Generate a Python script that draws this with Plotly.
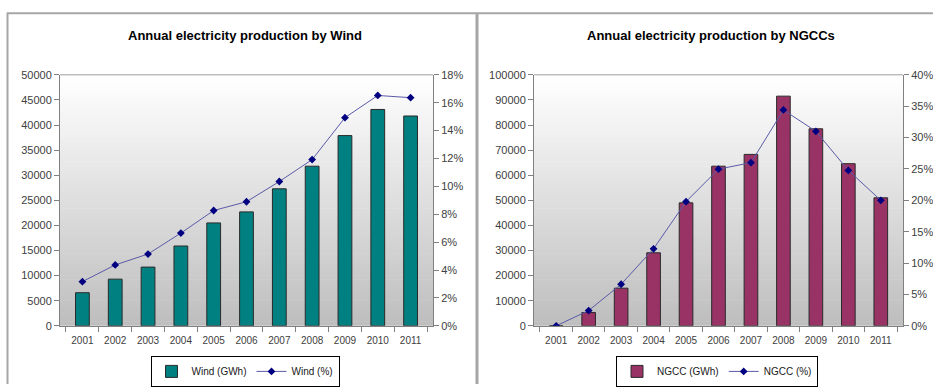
import plotly.graph_objects as go

# Years shared by both charts
years = ["2001", "2002", "2003", "2004", "2005", "2006",
         "2007", "2008", "2009", "2010", "2011"]

# Wind production (GWh) and share of total production
wind_gwh = [6600, 9300, 11700, 15900, 20500, 22700, 27300, 31800, 37900, 43100, 41800]
wind_pct = [0.0317, 0.0437, 0.0515, 0.0665, 0.0827, 0.089, 0.1035, 0.1192, 0.1493, 0.1652, 0.1636]

# NGCC production (GWh) and share of total production
ngcc_gwh = [0, 5300, 15000, 29100, 49000, 63600, 68300, 91500, 78500, 64600, 51000]
ngcc_pct = [0.0, 0.0244, 0.0663, 0.1228, 0.1979, 0.2497, 0.26, 0.344, 0.31, 0.2477, 0.20]

W, H = 933, 390
FONT = "Liberation Sans, Arial, sans-serif"
TICK_COLOR = "#404040"
AXIS_COLOR = "#808080"
LINE_COLOR = "#5a5aa8"
MARK_COLOR = "#000080"


def px_x(v):
    return v / W


def px_y(v):
    return 1 - v / H


fig = go.Figure()

fig.add_trace(go.Bar(
    x=years, y=wind_gwh, name="Wind (GWh)",
    marker=dict(color="#008080", line=dict(color="#2a2a2a", width=1)),
    xaxis="x", yaxis="y", legend="legend",
))
fig.add_trace(go.Scatter(
    x=years, y=wind_pct, name="Wind (%)", mode="lines+markers",
    line=dict(color=LINE_COLOR, width=1),
    marker=dict(symbol="diamond", size=6, color=MARK_COLOR),
    xaxis="x", yaxis="y2", legend="legend",
))
fig.add_trace(go.Bar(
    x=years, y=ngcc_gwh, name="NGCC (GWh)",
    marker=dict(color="#993366", line=dict(color="#2a2a2a", width=1)),
    xaxis="x2", yaxis="y3", legend="legend2",
))
fig.add_trace(go.Scatter(
    x=years, y=ngcc_pct, name="NGCC (%)", mode="lines+markers",
    line=dict(color=LINE_COLOR, width=1),
    marker=dict(symbol="diamond", size=6, color=MARK_COLOR),
    xaxis="x2", yaxis="y4", legend="legend2",
))

tickfont = dict(family=FONT, size=11, color=TICK_COLOR)
y_dom = [px_y(330), px_y(71)]

common_x = dict(type="category", showline=True, linecolor=AXIS_COLOR, linewidth=1,
                ticks="outside", ticklen=5, tickcolor=AXIS_COLOR, tickson="boundaries",
                showgrid=False, tickangle=0, ticklabelstandoff=5,
                tickfont=dict(family=FONT, size=10, color=TICK_COLOR),
                fixedrange=True)
common_y = dict(showline=True, linecolor=AXIS_COLOR, linewidth=1, ticks="outside",
                ticklen=5, tickcolor=AXIS_COLOR, showgrid=False, zeroline=False,
                tickfont=tickfont, fixedrange=True)

legend_style = dict(orientation="h", y=px_y(377), xanchor="center", yanchor="middle",
                    bordercolor="#000000", borderwidth=1, bgcolor="white",
                    font=dict(family=FONT, size=10, color="#202020"), itemwidth=30,
                    tracegroupgap=0)

fig.update_layout(
    width=W, height=H,
    margin=dict(l=0, r=0, t=0, b=0),
    paper_bgcolor="white", plot_bgcolor="rgba(0,0,0,0)",
    bargap=0.58,
    xaxis=dict(common_x, domain=[px_x(60), px_x(433)], anchor="y"),
    yaxis=dict(common_y, domain=y_dom, anchor="x", range=[0, 50000], dtick=5000,
               tickformat="d"),
    yaxis2=dict(common_y, overlaying="y", side="right", anchor="x",
                range=[0, 0.18], dtick=0.02, tickformat=".0%"),
    xaxis2=dict(common_x, domain=[px_x(534), px_x(903)], anchor="y3"),
    yaxis3=dict(common_y, domain=y_dom, anchor="x2", range=[0, 100000], dtick=10000,
                tickformat="d"),
    yaxis4=dict(common_y, overlaying="y3", side="right", anchor="x2",
                range=[0, 0.40], dtick=0.05, tickformat=".0%"),
    legend=dict(legend_style, x=px_x(245)),
    legend2=dict(legend_style, x=px_x(717)),
    annotations=[
        dict(text="<b>Annual electricity production by Wind</b>", x=px_x(245), y=px_y(30),
             xref="paper", yref="paper", xanchor="center", yanchor="middle", showarrow=False,
             font=dict(family=FONT, size=13, color="#000000")),
        dict(text="<b>Annual electricity production by NGCCs</b>", x=px_x(711), y=px_y(30),
             xref="paper", yref="paper", xanchor="center", yanchor="middle", showarrow=False,
             font=dict(family=FONT, size=13, color="#000000")),
    ],
)

shapes = []

# Vertical white-to-gray fill behind each plot area
N = 60
for xd, yd in (("x domain", "y domain"), ("x2 domain", "y3 domain")):
    for i in range(N):
        t = i / (N - 1)
        g = int(round(255 - (255 - 190) * (1 - t)))
        shapes.append(dict(type="rect", xref=xd, yref=yd, x0=0, x1=1,
                           y0=i / N, y1=(i + 1) / N + 0.002,
                           fillcolor=f"rgb({g},{g},{g})", line=dict(width=0),
                           layer="below"))
    # top edge of the plot area
    shapes.append(dict(type="line", xref=xd, yref=yd, x0=0, x1=1, y0=1, y1=1,
                       line=dict(color="#a0a0a0", width=1), layer="below"))

# Panel frames
frame = "#a6a6a6"
shapes.append(dict(type="line", xref="paper", yref="paper", x0=px_x(7.5), x1=px_x(7.5),
                   y0=0, y1=px_y(7), line=dict(color=frame, width=2)))
shapes.append(dict(type="line", xref="paper", yref="paper", x0=px_x(7), x1=1,
                   y0=px_y(7.5), y1=px_y(7.5), line=dict(color=frame, width=2)))
shapes.append(dict(type="line", xref="paper", yref="paper", x0=px_x(477), x1=px_x(477),
                   y0=0, y1=px_y(7), line=dict(color=frame, width=3)))

fig.update_layout(shapes=shapes)

fig.write_html("out.html")
